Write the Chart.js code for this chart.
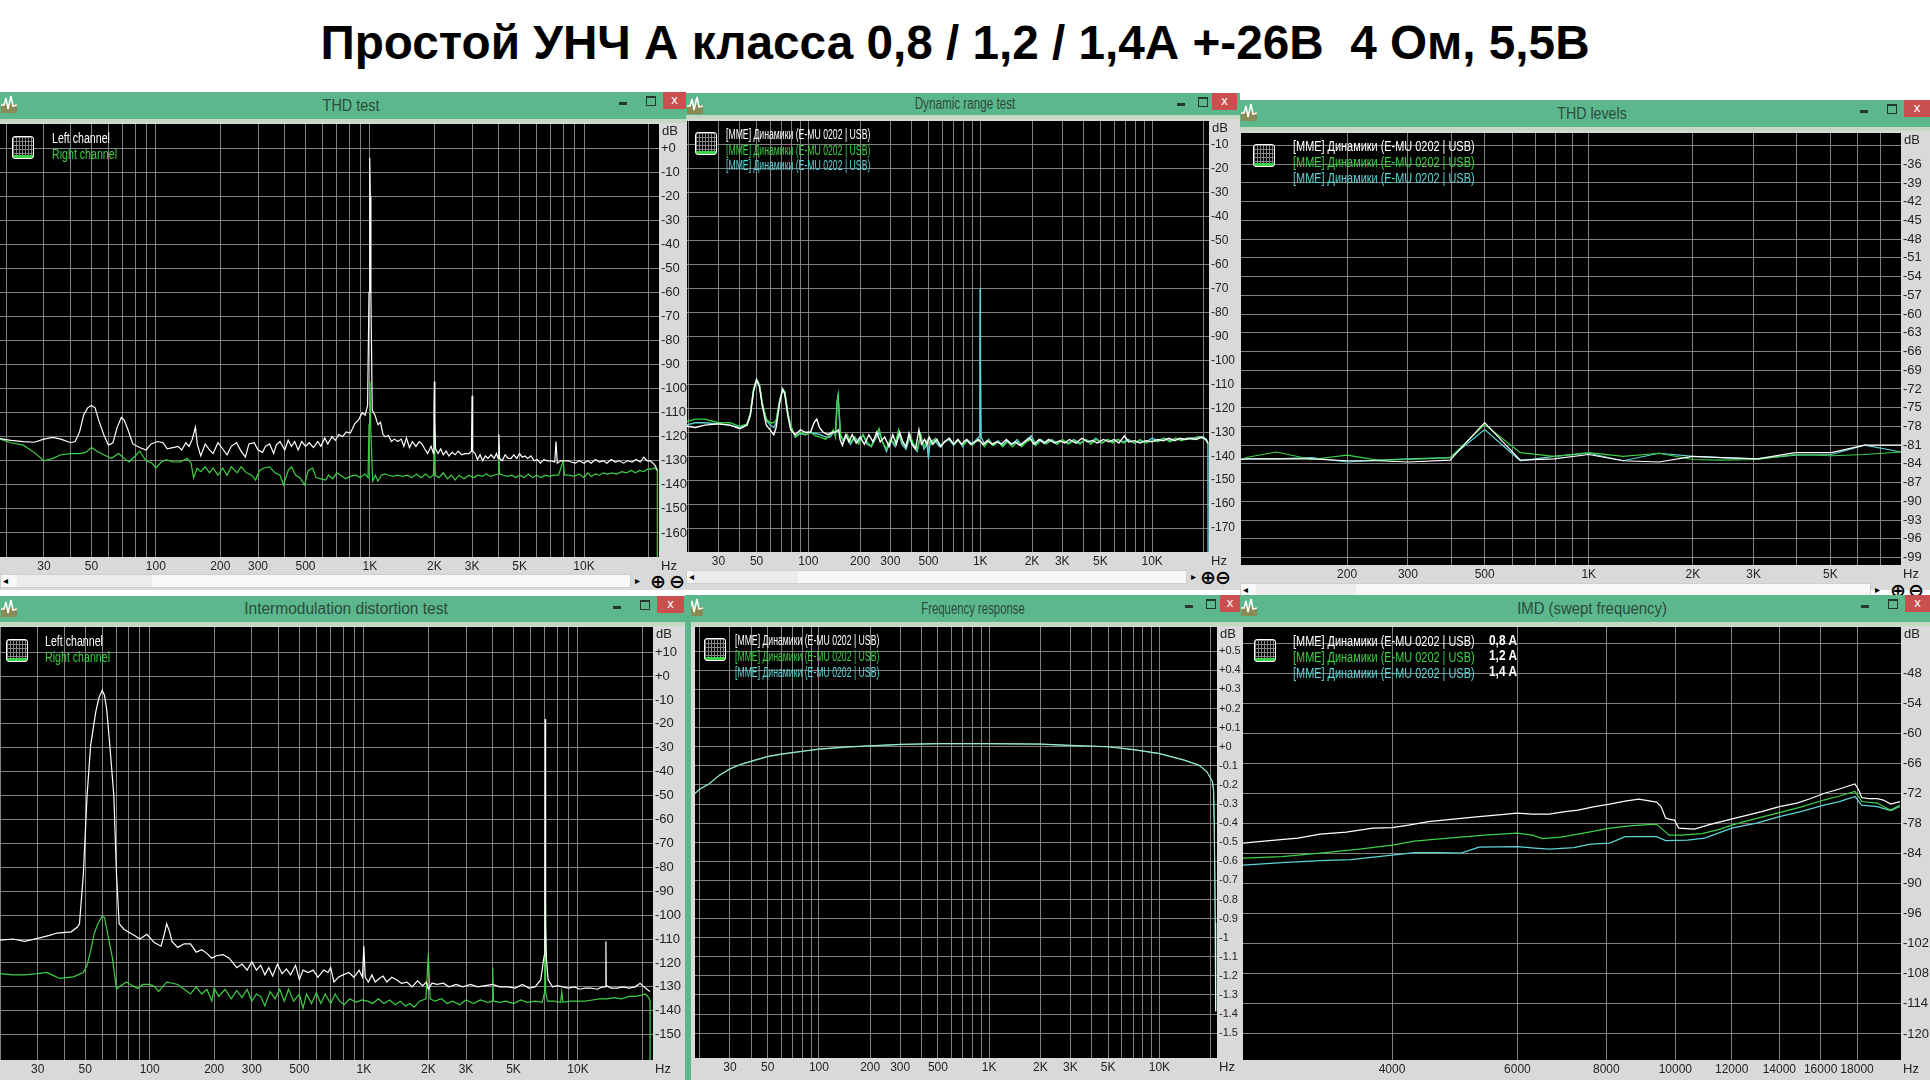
<!DOCTYPE html>
<html>
<head>
<meta charset="utf-8">
<title>Простой УНЧ А класса</title>
<script src="https://cdn.jsdelivr.net/npm/chart.js@4"></script>
<style>
	html, body { margin: 0; padding: 0; background: #fff; }
	#page { position: relative; width: 1930px; height: 1080px; overflow: hidden; background: #fff; font-family: 'Liberation Sans', sans-serif; }
	h1 { position: absolute; left: 0; top: 14px; width: 1910px; margin: 0; text-align: center; font: bold 47.7px/58px 'Liberation Sans', sans-serif; color: #000; white-space: pre; }
	.win { position: absolute; background: #d9d9d9; }
	.bar { position: absolute; background: #5cb88c; }
	.edge { position: absolute; background: #c5d8c2; }
	.cap { position: absolute; font-size: 16px; line-height: 20px; color: #2c4a3d; white-space: pre; }
	.btn { position: absolute; }
	.min { width: 8px; height: 3px; background: #24382f; }
	.max { width: 8px; height: 7px; border: 1px solid #24382f; border-top-width: 2px; }
	.close { background: #c9504f; color: #fff; font: 13px/16px 'Liberation Sans', sans-serif; text-align: center; }
	.plot { position: absolute; }
	.lg { position: absolute; font-size: 14px; line-height: 16px; white-space: pre; transform-origin: left center; }
	.icon { position: absolute; width: 20px; height: 21px; border: 1.5px solid #fff; border-radius: 3px; background:
		linear-gradient(to top, #3fd04a 3px, transparent 3px),
		repeating-linear-gradient(to right, #888 0 1px, transparent 1px 3px),
		repeating-linear-gradient(to bottom, #888 0 1px, transparent 1px 4px), #000; }
	.scroll { position: absolute; background: #f8f8f8; border: 1px solid #cfcfcf; box-sizing: border-box; }
	.thumb { position: absolute; top: 0; bottom: 0; background: #ececec; }
	.arrow { position: absolute; top: 0; font: 10px/14px 'Liberation Sans', sans-serif; color: #000; }
	.zoom { position: absolute; font: bold 19px/15px 'DejaVu Sans', sans-serif; color: #000; }
	.logo { position: absolute; width: 16px; height: 18px; }
</style>
</head>
<body>
<div id="page">
	<h1>Простой УНЧ А класса 0,8 / 1,2 / 1,4А +-26В  4 Ом, 5,5В</h1>
</div>
<script>
const leftChannel = 'Left channel';
const rightChannel = 'Right channel';
const deviceName = '[MME] Динамики (E-MU 0202 | USB)';
const currentLabels = ['0,8 A', '1,2 A', '1,4 A'];

// spectrum frequency ticks
const freqGrid = [20, 30, 40, 50, 60, 70, 80, 90, 100, 200, 300, 400, 500, 600, 700, 800, 900, 1000, 2000, 3000, 4000, 5000, 6000, 7000, 8000, 9000, 10000, 20000];
const freqLabels = [30, 50, 100, 200, 300, 500, 1000, 2000, 3000, 5000, 10000];
const levelsGrid = [200, 300, 400, 500, 600, 700, 800, 900, 1000, 2000, 3000, 4000, 5000, 6000, 7000];
const levelsLabels = [200, 300, 500, 1000, 2000, 3000, 5000];
const sweptGrid = [4000, 6000, 8000, 10000, 12000, 14000, 16000, 18000];

// dB ticks
const thdDb = [0, -10, -20, -30, -40, -50, -60, -70, -80, -90, -100, -110, -120, -130, -140, -150, -160];
const dynDb = [-10, -20, -30, -40, -50, -60, -70, -80, -90, -100, -110, -120, -130, -140, -150, -160, -170];
const levelsDb = [-33, -36, -39, -42, -45, -48, -51, -54, -57, -60, -63, -66, -69, -72, -75, -78, -81, -84, -87, -90, -93, -96, -99];
const imdDb = [10, 0, -10, -20, -30, -40, -50, -60, -70, -80, -90, -100, -110, -120, -130, -140, -150];
const respDb = [0.5, 0.4, 0.3, 0.2, 0.1, 0, -0.1, -0.2, -0.3, -0.4, -0.5, -0.6, -0.7, -0.8, -0.9, -1, -1.1, -1.2, -1.3, -1.4, -1.5];
const sweptDb = [-42, -48, -54, -60, -66, -72, -78, -84, -90, -96, -102, -108, -114, -120];

// THD test
const thdLeft = [[18.7,-120.8],[21,-121.5],[24,-122],[27,-122.3],[30,-121],[33,-120.3],[36,-121],[40,-122.5],[42,-122],[44,-118],[46,-111],[48,-108],[50,-107],[52,-108],[54,-113],[57,-119],[60,-123.5],[63,-122.5],[66,-116],[69,-112],[71,-113],[74,-117],[78,-123],[84,-124.5],[90,-125.5],[95,-123],[102,-122],[108,-122.5],[113,-125],[120,-124.5],[127,-124],[132,-125.5],[138,-122.5],[143,-124],[148,-121],[153,-116],[156,-123],[162,-128],[170,-123],[178,-125.5],[185,-127],[195,-122.5],[205,-125],[215,-127.5],[225,-124],[238,-122.5],[250,-126],[262,-128.5],[272,-123],[288,-122.5],[300,-125.5],[315,-126.5],[325,-124],[340,-123],[355,-127],[365,-123.5],[380,-122],[400,-125.5],[415,-121.5],[430,-124],[445,-122],[462,-125.5],[480,-122],[500,-124],[520,-122.5],[545,-124.5],[570,-122],[590,-124],[615,-120.5],[635,-123],[665,-120],[690,-121.5],[715,-119],[745,-120],[775,-118],[810,-118.5],[850,-114.5],[885,-113],[920,-110],[950,-111],[975,-107],[990,-60],[996,-20],[1000,-4],[1004,-20],[1010,-60],[1025,-109],[1055,-111],[1090,-115],[1120,-114],[1150,-119],[1180,-120],[1220,-119.5],[1260,-122],[1300,-121],[1350,-122],[1400,-121],[1440,-124],[1480,-120.5],[1530,-124.5],[1580,-122],[1640,-124],[1700,-122],[1750,-123],[1800,-125],[1860,-127],[1930,-124],[1980,-127],[1990,-110],[2000,-97],[2010,-112],[2025,-125],[2080,-127],[2140,-125],[2200,-127.5],[2270,-126],[2340,-128],[2420,-126.5],[2500,-127.5],[2580,-126],[2680,-127.5],[2780,-127],[2900,-127],[2980,-126],[3000,-103],[3020,-126],[3100,-127],[3180,-129.5],[3270,-127.5],[3360,-130],[3460,-128],[3560,-129],[3680,-127.5],[3800,-129],[3900,-127],[3970,-129],[4000,-119],[4030,-129],[4150,-130],[4280,-127.5],[4420,-129],[4560,-129],[4700,-127.5],[4850,-129],[5000,-127],[5150,-128.5],[5300,-128],[5450,-129],[5650,-128],[5850,-130],[6050,-129.5],[6250,-131],[6500,-129.5],[6750,-130],[7000,-130],[7300,-130.5],[7400,-122],[7500,-131],[7800,-130],[8100,-130],[8400,-130],[8700,-130.5],[9100,-131],[9500,-130],[10000,-131],[10400,-130],[10800,-131],[11300,-129.5],[11800,-130.5],[12300,-130],[12800,-131],[13400,-129.5],[14000,-130.5],[14600,-130],[15300,-131],[16000,-130],[16800,-130.5],[17500,-129.5],[18300,-130.5],[19000,-128.5],[19700,-130],[20400,-130],[21000,-131],[21500,-132],[22000,-134]];
const thdRight = [[18.7,-121],[21,-122.5],[24,-123.5],[27,-126.5],[30,-130],[33,-129],[36,-127.5],[40,-127],[44,-127],[47,-126.5],[50,-124.5],[53,-126],[57,-127.5],[62,-129],[67,-127],[71,-129],[75,-130.5],[80,-128],[84,-126],[90,-130],[96,-131],[100,-133],[106,-130.5],[112,-129.5],[120,-130.5],[130,-130.5],[140,-129],[146,-131],[150,-137],[156,-133],[162,-134.5],[170,-132.5],[178,-135],[185,-133],[195,-136],[205,-133],[215,-136],[225,-132.5],[240,-135],[250,-132.5],[265,-135],[280,-136],[292,-138],[305,-134],[320,-133],[340,-132.5],[360,-135],[380,-136],[395,-140],[415,-134],[430,-132.5],[450,-136],[470,-137],[495,-140],[515,-134],[540,-133],[560,-137],[590,-137.5],[620,-138],[640,-136],[670,-137.5],[700,-135],[730,-136],[770,-137.5],[810,-136.5],[860,-136],[900,-137],[950,-135.5],[980,-137],[990,-115],[1000,-97],[1010,-118],[1030,-138.5],[1060,-136],[1090,-138.5],[1130,-136],[1170,-135.5],[1220,-136],[1280,-136.5],[1350,-136],[1420,-136.5],[1490,-136],[1570,-137],[1650,-135.5],[1730,-137],[1820,-135.5],[1900,-137],[1980,-136],[2000,-117],[2020,-136],[2100,-137],[2200,-135],[2300,-137.5],[2400,-136],[2500,-138],[2600,-136],[2750,-137.5],[2900,-136],[3050,-137],[3200,-136],[3350,-136.5],[3500,-135.5],[3650,-136.5],[3800,-136],[3970,-135.5],[4000,-123],[4030,-135.5],[4200,-136],[4400,-136.5],[4600,-136],[4800,-137],[5000,-136],[5250,-137],[5500,-135.5],[5750,-137],[6000,-136],[6300,-137],[6600,-136],[6900,-136.5],[7200,-136],[7600,-136],[8000,-130],[8100,-136],[8500,-136],[9000,-136.5],[9500,-135.5],[10000,-137],[10400,-135],[10800,-136.5],[11300,-135.5],[11800,-136],[12300,-135],[12900,-135.5],[13500,-135],[14200,-135.5],[15000,-134.5],[15800,-135],[16600,-134],[17400,-135],[18200,-134],[19000,-134.5],[19800,-133.5],[20600,-133.5],[21400,-133],[22000,-134],[22000,-170]];

// Dynamic range test
const dynWhite = [[19.7,-127.5],[22,-128],[25,-127],[30,-126.5],[35,-127],[40,-128.5],[44,-127],[46,-123],[48,-113],[50,-108],[52,-111],[54,-119],[57,-127],[60,-129],[63,-131],[65,-128],[68,-118],[71,-112],[73,-114],[76,-123],[79,-129],[84,-131],[90,-129],[96,-130],[103,-130],[108,-126],[112,-124.5],[116,-128],[122,-130],[130,-131],[138,-130],[144,-130],[150,-129],[153,-133],[158,-135.5],[165,-131],[172,-134],[180,-131],[190,-134.5],[200,-132],[212,-135],[225,-131],[238,-134],[250,-130],[262,-134],[278,-132],[295,-136],[310,-131],[325,-135],[340,-130],[355,-134],[370,-136],[385,-130.5],[400,-135],[420,-137],[440,-129],[455,-135],[475,-133],[490,-135],[505,-132],[530,-135],[560,-133],[590,-136],[620,-134],[660,-132.5],[700,-135],[740,-133],[780,-135],[830,-133],[880,-135],[930,-134],[980,-133],[1040,-135],[1100,-133.5],[1170,-135],[1250,-134],[1330,-135],[1420,-133],[1510,-135],[1600,-134],[1700,-135.5],[1800,-134],[1950,-132.5],[2050,-135],[2200,-133],[2350,-134.5],[2500,-133],[2700,-134.5],[2900,-133.5],[3100,-134.5],[3300,-133],[3600,-134.5],[3900,-132.5],[4200,-134],[4500,-133.5],[4800,-134.5],[5200,-133],[5600,-134],[6000,-133],[6400,-134.5],[6900,-131.5],[7300,-134],[7900,-133.5],[8500,-134.5],[9200,-133.5],[10000,-134],[10800,-133],[11600,-133.5],[12500,-132.5],[13500,-133.5],[14500,-132.5],[15600,-133],[16800,-132.5],[18000,-133],[19400,-132],[20500,-133],[21100,-134.5]];
const dynGreen = [[19.7,-125.5],[22,-124.5],[25,-124.5],[30,-126],[35,-126],[40,-127.5],[44,-126.5],[46,-122],[48,-112],[50,-108],[52,-110],[54,-118],[57,-124.5],[60,-126],[63,-126],[65,-125],[68,-117],[71,-112],[73,-113],[76,-122],[79,-127],[84,-132],[90,-130],[96,-131],[103,-130],[110,-131.5],[118,-132],[126,-133],[134,-131],[140,-129],[144,-132],[147,-118],[149,-115],[151,-121],[154,-132],[160,-133],[168,-131],[176,-134],[186,-132],[196,-135],[208,-131],[220,-134],[232,-136],[245,-132],[258,-128.5],[270,-134],[285,-137],[300,-133],[320,-135],[335,-129],[350,-134],[370,-136],[390,-131],[410,-135],[430,-137],[450,-131],[470,-136],[495,-133],[520,-135],[550,-132.5],[585,-135.5],[620,-134],[660,-132.5],[700,-135],[745,-133.5],[790,-135.5],[840,-133.5],[900,-135.5],[950,-133.5],[1000,-134],[1060,-136],[1120,-133.5],[1190,-135.5],[1270,-134],[1350,-136],[1440,-134],[1540,-136],[1640,-134],[1740,-136],[1860,-134],[1980,-133],[2100,-135.5],[2250,-133.5],[2400,-135],[2600,-133.5],[2800,-135],[3000,-133],[3250,-135],[3500,-133.5],[3800,-135],[4100,-133],[4400,-135],[4700,-133],[5100,-134.5],[5500,-133],[5900,-134.5],[6300,-133],[6800,-134.5],[7300,-133.5],[7900,-134.5],[8500,-133],[9200,-134.5],[10000,-133.5],[10800,-134],[11700,-132.5],[12700,-134],[13700,-132.5],[14800,-133.5],[16000,-132.5],[17200,-133],[18500,-132],[19800,-132.5],[20700,-133.5],[21100,-135]];
const dynCyan = [[19.7,-127],[22,-126],[25,-126],[30,-126.5],[35,-127],[40,-128],[44,-127],[46,-122.5],[48,-112.5],[50,-108],[52,-110.5],[54,-118],[57,-125],[60,-127],[63,-128],[65,-126],[68,-117],[71,-112],[73,-113.5],[76,-122],[79,-128],[84,-132],[90,-130.5],[96,-131],[103,-130],[110,-130.5],[118,-131],[126,-132],[134,-132],[140,-130],[144,-130],[147,-117],[149,-114.5],[151,-122],[154,-131],[160,-134],[168,-131],[176,-135],[186,-132],[196,-134],[208,-131],[220,-135],[232,-136],[245,-133],[258,-130],[270,-134],[285,-138],[300,-133],[320,-136],[335,-130],[350,-135],[370,-137],[390,-132],[410,-136],[430,-138],[450,-131],[470,-137],[490,-135],[500,-141],[510,-134],[540,-133],[580,-136],[620,-134],[660,-133],[700,-135.5],[745,-133],[790,-136],[840,-133],[900,-135],[950,-133],[985,-132],[995,-98],[998,-70],[1002,-98],[1012,-132],[1060,-135],[1120,-133],[1190,-135.5],[1270,-133.5],[1350,-135.5],[1440,-133.5],[1540,-135],[1640,-133],[1740,-135.5],[1860,-133],[1980,-131.5],[2100,-135],[2250,-133],[2400,-134.5],[2600,-133],[2800,-134.5],[3000,-133.5],[3250,-134.5],[3500,-133],[3800,-134.5],[4100,-133],[4400,-134],[4700,-132.5],[5100,-134.5],[5500,-133],[5900,-134],[6300,-133],[6800,-134],[7300,-133],[7900,-134.5],[8500,-133.5],[9200,-134],[10000,-132.5],[10800,-133.5],[11700,-132.5],[12700,-133.5],[13700,-132.5],[14800,-133],[16000,-132.5],[17200,-132.5],[18500,-132],[19800,-132],[20700,-133],[21100,-134.5],[21150,-180]];

// THD levels
const levelsFreq = [98.7, 104, 125, 158, 200, 245, 300, 397, 500, 634, 793, 1000, 1258, 1596, 2000, 2420, 3070, 3960, 5030, 6280, 8000];
const levelsWhite = [-83.3, -83.2, -83.2, -83.2, -83.5, -83.5, -83.7, -83.4, -77.4, -83.4, -83.2, -82.5, -83.5, -83.7, -82.8, -83, -83.2, -82.2, -82.2, -81, -81];
const levelsGreen = [-83.3, -82.9, -82.1, -83.3, -82.6, -83.4, -83.3, -83, -77.7, -82.2, -82.8, -82.2, -82.8, -82.3, -83.3, -83.4, -83.3, -82.5, -82.7, -82.5, -82.1];
const levelsCyan = [-83.2, -83.2, -83.2, -83, -83.7, -83.4, -83.2, -83, -78.5, -83.5, -82.8, -82.3, -83.5, -82.3, -82.8, -83, -83.2, -82.6, -82.5, -81, -82.1];

// Intermodulation distortion test
const imdLeft = [[20,-110.5],[23,-110],[26,-111],[30,-109.7],[34,-108.5],[37,-107.5],[43,-107],[46,-105],[47,-103.6],[49,-83],[51,-50],[53,-29],[56,-15],[58,-9],[60,-6],[61.5,-8],[63,-14],[65,-28],[68,-50],[70,-83],[72,-103.6],[76,-106],[85,-108.5],[90,-110],[97,-108],[105,-111.5],[113,-113],[117,-108],[120,-103.6],[124,-107],[127,-111],[135,-113.5],[145,-112],[155,-112],[165,-115.5],[175,-114.5],[185,-116],[195,-118],[205,-117],[220,-116.5],[235,-118],[245,-120],[255,-122],[270,-120.5],[285,-123],[300,-119.5],[315,-123],[330,-121],[345,-125],[360,-122],[375,-125.5],[395,-120.5],[415,-124.5],[435,-122.5],[455,-125],[480,-121],[500,-127],[520,-123],[550,-124],[580,-123],[610,-126],[650,-123],[680,-124],[700,-122],[725,-128],[760,-126],[800,-125],[850,-124],[900,-126],[950,-123],[985,-126],[1000,-113],[1015,-126],[1050,-128],[1090,-125],[1130,-128],[1180,-126.5],[1230,-125.5],[1280,-128],[1350,-126],[1420,-127],[1500,-128.5],[1590,-128],[1680,-130],[1780,-127.5],[1880,-129.5],[1960,-128],[2000,-131],[2080,-128.5],[2200,-129],[2350,-128.5],[2500,-130],[2700,-129],[2900,-130],[3150,-129],[3400,-130],[3700,-129.5],[4000,-129],[4300,-130],[4700,-130],[5100,-130.5],[5500,-129],[5900,-130.5],[6300,-130],[6700,-127],[6950,-117],[7000,-105],[7030,-18],[7060,-103],[7120,-118],[7250,-127],[7600,-130],[8000,-129.5],[8500,-130],[9000,-130.5],[9600,-130],[10200,-131],[10800,-130.5],[11500,-130.5],[12300,-131],[13000,-130],[13450,-130],[13500,-111],[13550,-129.5],[14300,-130.5],[15200,-130.5],[16200,-130],[17300,-130.5],[18500,-130],[19500,-128.5],[20300,-130],[21000,-131],[21700,-132]];
const imdRight = [[20,-124.5],[23,-125],[26,-125],[30,-124.5],[33,-124],[36,-125.5],[38,-126.5],[44,-125.8],[49,-124],[51,-121],[53,-115],[55,-108],[57,-104],[60,-100.4],[61.5,-101],[63,-105.7],[65,-112],[67,-118],[70,-131],[72,-130],[78,-128],[83,-129.5],[88,-130.7],[93,-129],[100,-129],[106,-130],[110,-132],[120,-128],[128,-128.5],[135,-129],[145,-131],[155,-133],[165,-130],[175,-133],[185,-131],[195,-136],[200,-130.5],[210,-134],[225,-131],[240,-135],[255,-131.5],[270,-134.5],[285,-131],[300,-136],[315,-133],[330,-134],[345,-138],[365,-132],[385,-135],[405,-131],[425,-136],[445,-131],[470,-136],[500,-133],[520,-139],[540,-133],[570,-137],[600,-132.5],[630,-137],[660,-133],[700,-137],[735,-133],[770,-136],[810,-137.5],[860,-135],[920,-136.5],[980,-135.5],[1040,-136],[1100,-137],[1170,-135],[1240,-137],[1320,-135.5],[1400,-137.5],[1480,-136],[1560,-138],[1640,-137],[1720,-138.5],[1820,-136],[1950,-135],[2000,-116],[2040,-135],[2150,-136],[2300,-135],[2450,-137],[2600,-136],[2800,-137.5],[3000,-135.5],[3250,-137],[3500,-135.5],[3800,-136.5],[3970,-136],[4000,-122],[4030,-136],[4300,-136.5],[4600,-136],[5000,-137],[5400,-135.5],[5800,-136.5],[6300,-136],[6800,-136.5],[7000,-132],[7030,-95],[7060,-132],[7200,-136],[7700,-136],[8300,-136.5],[8400,-132],[8500,-136.5],[9200,-136],[10000,-136],[10800,-136],[11700,-135.5],[12600,-135],[13700,-135],[14800,-134.5],[16000,-135],[17300,-134],[18600,-134],[19700,-133.5],[20600,-133],[21400,-134.5],[21700,-136],[21700,-170]];

// Frequency response
const respWhite = [[18.7,-0.244],[20,-0.22],[22.5,-0.195],[26,-0.148],[30,-0.115],[35,-0.09],[40,-0.075],[50,-0.05],[60,-0.038],[70,-0.03],[85,-0.02],[100,-0.012],[150,0],[200,0.005],[300,0.012],[500,0.016],[1000,0.016],[2000,0.014],[3000,0.007],[5000,0],[7000,-0.014],[10000,-0.035],[14000,-0.07],[17000,-0.096],[19000,-0.13],[20500,-0.183],[20800,-0.226],[21000,-0.4],[21300,-0.92],[21400,-1.385]];
const respGreen = [[18.7,-0.246],[20,-0.222],[22.5,-0.197],[26,-0.15],[30,-0.117],[35,-0.092],[40,-0.077],[50,-0.052],[60,-0.04],[70,-0.032],[85,-0.022],[100,-0.014],[150,-0.002],[200,0.004],[300,0.011],[500,0.015],[1000,0.015],[2000,0.013],[3000,0.006],[5000,-0.001],[7000,-0.015],[10000,-0.036],[14000,-0.071],[17000,-0.097],[19000,-0.131],[20500,-0.184],[20800,-0.227],[21000,-0.4],[21300,-0.92],[21400,-1.385]];
const respCyan = [[18.7,-0.245],[20,-0.221],[22.5,-0.196],[26,-0.15],[30,-0.116],[35,-0.092],[40,-0.077],[50,-0.052],[60,-0.039],[70,-0.031],[85,-0.021],[100,-0.013],[150,-0.001],[200,0.004],[300,0.012],[500,0.016],[1000,0.016],[2000,0.014],[3000,0.007],[5000,0],[7000,-0.015],[10000,-0.036],[14000,-0.07],[17000,-0.096],[19000,-0.13],[20500,-0.183],[20800,-0.226],[21000,-0.4],[21300,-0.92],[21400,-1.385]];

// IMD (swept frequency)
const sweptWhite = [[2470,-81.9],[2600,-81.6],[2740,-81.3],[2950,-80.9],[3170,-80.1],[3450,-79.7],[3760,-78.9],[4000,-78.8],[4220,-78.3],[4500,-77.6],[4880,-77.1],[5300,-76.6],[5700,-76.2],[5990,-75.9],[6300,-76.1],[6650,-76.1],[7000,-75.6],[7300,-75.3],[7700,-74.6],[8090,-74.1],[8500,-73.5],[8880,-73.1],[9150,-73.4],[9410,-73.7],[9550,-74.6],[9690,-76.9],[9800,-77.1],[9970,-77.3],[10110,-78.9],[10640,-79.1],[11100,-78.3],[11600,-77.6],[12300,-76.7],[13220,-75.6],[14000,-74.6],[14820,-73.9],[15500,-73],[16170,-72],[17000,-71.1],[17500,-70.5],[17880,-70.1],[18100,-71.3],[18270,-72.8],[18700,-73],[19220,-73],[19600,-73.3],[20070,-74.1],[20680,-73.6]];
const sweptGreen = [[2470,-84.9],[2800,-84.6],[3170,-83.9],[3600,-83.1],[4000,-82.3],[4300,-81.5],[4800,-80.9],[5400,-80.3],[5990,-79.9],[6300,-80.3],[6500,-81],[6900,-80.7],[7500,-79.8],[8090,-78.9],[8700,-78.4],[9410,-78.1],[9600,-79.2],[9800,-80.3],[10200,-80.3],[10900,-80],[11500,-79.2],[12000,-78.3],[12800,-77.2],[14000,-75.8],[15000,-74.7],[16170,-73.3],[17000,-72.5],[17880,-71.6],[18100,-72.6],[18270,-73.6],[19220,-73.9],[19600,-74.6],[20070,-75.3],[20680,-74.3]];
const sweptCyan = [[2470,-86.3],[2800,-85.8],[3170,-85.4],[3500,-85.2],[4000,-84.3],[4300,-83.8],[4700,-83.8],[5000,-83.9],[5300,-82.7],[6000,-82.6],[6350,-82.9],[6650,-83.1],[7200,-82.8],[7600,-82.1],[8090,-81.9],[8500,-80.6],[9410,-80.6],[9690,-81.4],[10400,-81.3],[11000,-80.9],[12000,-78.9],[13000,-77.9],[14000,-76.6],[15000,-75.6],[16170,-74.3],[17000,-73.6],[17880,-72.6],[18270,-74.3],[19220,-74.6],[20070,-75.4],[20680,-74.6]];

const white = '#ffffff';
const green = '#3ecf45';
const cyan = '#5fd3d6';

const unitLabels = {
	id: 'unitLabels',
	afterDraw(chart) {
		const { ctx, chartArea } = chart;
		ctx.save();
		ctx.font = "13px 'Liberation Sans', sans-serif";
		ctx.fillStyle = '#222';
		ctx.textBaseline = 'middle';
		ctx.fillText('dB', chartArea.right + 3, chartArea.top + 7);
		ctx.fillText('Hz', chartArea.right + 2, chartArea.bottom + 9);
		ctx.restore();
	},
};

const page = document.getElementById('page');

function addEl(cls, css, text) {
	const el = document.createElement('div');
	el.className = cls;
	el.style.cssText = css;
	if (text !== undefined) el.textContent = text;
	page.appendChild(el);
	return el;
}

function hzLabel(v) {
	return v >= 1000 ? v / 1000 + 'K' : String(v);
}

function dbLabel(v) {
	return v >= 0 ? '+' + v : String(v);
}

function noPadding(axis) {
	axis.paddingTop = 0;
	axis.paddingBottom = 0;
	axis.paddingLeft = 0;
	axis.paddingRight = 0;
}

function initChart(box, xMin, xMax, yMin, yMax, xGrid, xLabel, yGrid, yLabel, series) {
	const holder = addEl('plot', `left:${box.x}px;top:${box.y}px;`);
	const canvas = document.createElement('canvas');
	canvas.width = box.w + 30;
	canvas.height = box.h + 18;
	canvas.style.cssText = `display:block;width:${box.w + 30}px;height:${box.h + 18}px;`;
	holder.appendChild(canvas);
	return new Chart(canvas, {
		type: 'scatter',
		data: {
			datasets: series.map(([data, color, width]) => ({
				data: data.map(([x, y]) => ({ x, y })),
				borderColor: color,
				backgroundColor: color,
				showLine: true,
				borderWidth: width || 1.2,
				pointRadius: 0,
				tension: 0,
			})),
		},
		plugins: [
			unitLabels,
			{
				id: 'plotBg',
				beforeDraw(chart) {
					const a = chart.chartArea;
					chart.ctx.fillStyle = '#000';
					chart.ctx.fillRect(a.left, a.top, a.right - a.left, a.bottom - a.top);
				},
			},
		],
		options: {
			responsive: false,
			animation: false,
			devicePixelRatio: 1,
			layout: { padding: 0 },
			plugins: { legend: { display: false }, tooltip: { enabled: false } },
			scales: {
				x: {
					type: 'logarithmic',
					min: xMin,
					max: xMax,
					afterBuildTicks: (axis) => (axis.ticks = xGrid.map((value) => ({ value }))),
					afterFit: (axis) => {
						axis.height = 18;
						noPadding(axis);
					},
					grid: { color: '#808080', lineWidth: 1, drawTicks: false },
					border: { display: false },
					ticks: {
						autoSkip: false,
						maxRotation: 0,
						padding: 2,
						color: '#222',
						font: { family: "'Liberation Sans', sans-serif", size: 12 },
						callback: xLabel,
					},
				},
				y: {
					position: 'right',
					min: yMin,
					max: yMax,
					afterBuildTicks: (axis) => (axis.ticks = yGrid.map((value) => ({ value }))),
					afterFit: (axis) => {
						axis.width = 30;
						noPadding(axis);
					},
					grid: { color: '#808080', lineWidth: 1, drawTicks: false },
					border: { display: false },
					ticks: {
						autoSkip: false,
						padding: 2,
						color: '#222',
						font: { family: "'Liberation Sans', sans-serif", size: box.yFont || 13 },
						callback: yLabel,
					},
				},
			},
		},
	});
}

function addWindow(win) {
	addEl('win', `left:${win.x}px;top:${win.y}px;width:${win.w}px;height:${win.h}px;`);
	addEl('bar', `left:${win.x}px;top:${win.y}px;width:${win.w}px;height:${win.barH}px;`);
	addEl('edge', `left:${win.x}px;top:${win.y + win.barH}px;width:${win.w}px;height:4px;`);
	addEl('cap', `left:${win.capX}px;top:${win.y + win.barH / 2 - 10}px;transform:translateX(-50%) scaleX(${win.capScale});`, win.title);
	addEl('btn min', `left:${win.minX}px;top:${win.y + 10}px;`);
	addEl('btn max', `left:${win.maxX}px;top:${win.y + 4}px;`);
	addEl('btn close', `left:${win.closeX}px;top:${win.y}px;width:${win.closeW}px;height:17px;`, 'x');
	const logo = document.createElementNS('http://www.w3.org/2000/svg', 'svg');
	logo.setAttribute('viewBox', '0 0 16 18');
	logo.setAttribute('class', 'logo');
	logo.style.cssText = `left:${win.x + 1}px;top:${win.y + 3}px;`;
	logo.innerHTML = '<rect y="9" width="16" height="9" fill="#8a8a55"/><polyline points="0,10 3,10 5,3 7,14 10,1 12,11 16,10" fill="none" stroke="#fff" stroke-width="1.5"/>';
	page.appendChild(logo);
}

function addLegend(iconX, iconY, textX, ys, items, scale) {
	addEl('icon', `left:${iconX}px;top:${iconY}px;`);
	items.forEach(([text, color], i) => {
		addEl('lg', `left:${textX}px;top:${ys[i] - 8}px;color:${color};transform:scaleX(${scale});`, text);
	});
}

function addScroll(x, y, w, thumbX, thumbW, zoomA, zoomB) {
	const track = addEl('scroll', `left:${x}px;top:${y}px;width:${w}px;height:14px;`);
	const thumb = document.createElement('div');
	thumb.className = 'thumb';
	thumb.style.cssText = `left:${thumbX}px;width:${thumbW}px;`;
	track.appendChild(thumb);
	addEl('arrow', `left:${x + 3}px;top:${y}px;`, '◂');
	addEl('arrow', `left:${x + w + 4}px;top:${y}px;`, '▸');
	addEl('zoom', `left:${zoomA}px;top:${y}px;`, '⊕');
	addEl('zoom', `left:${zoomB}px;top:${y}px;`, '⊖');
}

const deviceLegend = [
	[deviceName, white],
	[deviceName, green],
	[deviceName, cyan],
];
const channelLegend = [
	[leftChannel, white],
	[rightChannel, green],
];

addWindow({ x: 0, y: 92, w: 686, h: 498, barH: 27, title: 'THD test', capX: 351, capScale: 0.9, minX: 619, maxX: 646, closeX: 663, closeW: 23 });
addWindow({ x: 686, y: 93, w: 554, h: 497, barH: 22, title: 'Dynamic range test', capX: 965, capScale: 0.73, minX: 1177, maxX: 1198, closeX: 1212, closeW: 25 });
addWindow({ x: 1240, y: 100, w: 690, h: 490, barH: 27, title: 'THD levels', capX: 1592, capScale: 0.89, minX: 1860, maxX: 1887, closeX: 1904, closeW: 26 });
addScroll(0, 574, 631, 16, 135, 650, 669);
addScroll(686, 570, 501, 6, 105, 1200, 1215);
addScroll(1240, 583, 631, 15, 100, 1890, 1908);
addWindow({ x: 0, y: 596, w: 686, h: 484, barH: 26, title: 'Intermodulation distortion test', capX: 346, capScale: 0.97, minX: 613, maxX: 640, closeX: 657, closeW: 27 });
addWindow({ x: 686, y: 595, w: 554, h: 485, barH: 27, title: 'Frequency response', capX: 973, capScale: 0.71, minX: 1185, maxX: 1206, closeX: 1220, closeW: 20 });
addWindow({ x: 1240, y: 595, w: 690, h: 485, barH: 27, title: 'IMD (swept frequency)', capX: 1592, capScale: 0.93, minX: 1861, maxX: 1888, closeX: 1905, closeW: 25 });
addEl('bar', 'left:685px;top:595px;width:6px;height:485px;');

initChart({ x: 0, y: 124, w: 659, h: 433 }, 18.7, 22400, -170, 10, freqGrid,
	(v) => (freqLabels.includes(v) ? hzLabel(v) : ''), thdDb, dbLabel,
	[[thdLeft, white], [thdRight, green]]);
initChart({ x: 687, y: 121, w: 522, h: 431, yFont: 12 }, 19.7, 21400, -180, 0, freqGrid,
	(v) => (freqLabels.includes(v) ? hzLabel(v) : ''), dynDb, dbLabel,
	[[dynWhite, white, 1.4], [dynGreen, green, 1.4], [dynCyan, cyan, 1.4]]);
initChart({ x: 1241, y: 133, w: 660, h: 432 }, 98.7, 8000, -100.2, -31, levelsGrid,
	(v) => (levelsLabels.includes(v) ? hzLabel(v) : ''), levelsDb, (v) => (v === -33 ? '' : String(v)),
	[[levelsFreq.map((f, i) => [f, levelsWhite[i]]), white], [levelsFreq.map((f, i) => [f, levelsGreen[i]]), green], [levelsFreq.map((f, i) => [f, levelsCyan[i]]), cyan]]);
initChart({ x: 0, y: 627, w: 653, h: 433 }, 20, 22400, -160.6, 20.5, freqGrid,
	(v) => (freqLabels.includes(v) ? hzLabel(v) : ''), imdDb, dbLabel,
	[[imdLeft, white], [imdRight, green]]);
initChart({ x: 695, y: 627, w: 522, h: 431, yFont: 11 }, 18.7, 21800, -1.63, 0.627, freqGrid,
	(v) => (freqLabels.includes(v) ? hzLabel(v) : ''), respDb, dbLabel,
	[[respWhite, white, 0.5], [respGreen, green, 0.5], [respCyan, cyan, 1.2]]);
initChart({ x: 1243, y: 627, w: 658, h: 433 }, 2470, 20750, -125.2, -38.75, sweptGrid,
	(v) => String(v), sweptDb, (v) => (v === -42 ? '' : String(v)),
	[[sweptWhite, white], [sweptGreen, green], [sweptCyan, cyan]]);

addLegend(12, 136, 51.5, [138, 154], channelLegend, 0.76);
addLegend(695, 132, 726.4, [134, 150, 165], deviceLegend, 0.62);
addLegend(1253, 144, 1292.5, [146, 162, 178], deviceLegend, 0.78);
addLegend(6, 639, 45, [641, 657], channelLegend, 0.76);
addLegend(704, 638, 735, [640, 656, 672], deviceLegend, 0.62);
addLegend(1254, 639, 1293, [641, 657, 673], deviceLegend, 0.78);
currentLabels.forEach((text, i) => {
	addEl('lg', `left:1489px;top:${[640, 655, 671][i] - 8}px;color:#fff;font-weight:bold;transform:scaleX(0.85);`, text);
});
</script>
</body>
</html>
